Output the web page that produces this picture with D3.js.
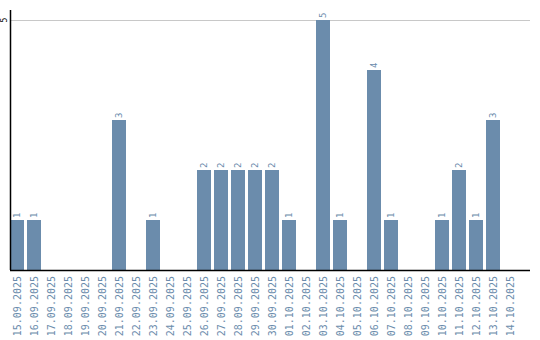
<!DOCTYPE html>
<html>
<head>
<meta charset="utf-8">
<script src="https://cdn.jsdelivr.net/npm/d3@7"></script>
<style>
  body { margin: 0; background: #fff; }
  svg { display: block; }
</style>
</head>
<body>
<svg id="barchart" width="540" height="340"></svg>
<script>
// days shown on the x axis
let days = ["15.09.2025", "16.09.2025", "17.09.2025", "18.09.2025", "19.09.2025",
  "20.09.2025", "21.09.2025", "22.09.2025", "23.09.2025", "24.09.2025",
  "25.09.2025", "26.09.2025", "27.09.2025", "28.09.2025", "29.09.2025",
  "30.09.2025", "01.10.2025", "02.10.2025", "03.10.2025", "04.10.2025",
  "05.10.2025", "06.10.2025", "07.10.2025", "08.10.2025", "09.10.2025",
  "10.10.2025", "11.10.2025", "12.10.2025", "13.10.2025", "14.10.2025"];
let counts = [1, 1, 0, 0, 0, 0, 3, 0, 1, 0, 0, 2, 2, 2, 2, 2, 1, 0, 5, 1, 0, 4, 1, 0, 0, 1, 2, 1, 3, 0];
let yTicks = [5];

let myData = days.map((d, i) => ({name: d, height: counts[i]}));

let svg = d3.select("#barchart"),
    margin = {left: 10, right: 530, top: 20, bottom: 270},
    barColor = "#6b8cac";

let x = d3.scaleBand()
  .domain(days)
  .range([margin.left, margin.left + 510])
  .paddingInner(3 / 17)
  .paddingOuter(3 / 34)
  .align(0);

let y = d3.scaleLinear()
  .domain([0, 5])
  .range([margin.bottom, margin.top]);

// grid line at 5
svg.append("g")
  .selectAll("line")
  .data(yTicks)
  .enter().append("line")
  .attr("x1", margin.left)
  .attr("x2", margin.right)
  .attr("y1", d => Math.round(y(d)) + 0.5)
  .attr("y2", d => Math.round(y(d)) + 0.5)
  .style("stroke", "#c8c8c8");

// bars
svg.append("g")
  .selectAll(".point")
  .data(myData.filter(d => d.height > 0))
  .enter().append("rect")
  .attr("class", "point")
  .attr("x", d => x(d.name))
  .attr("y", d => y(d.height))
  .attr("width", x.bandwidth())
  .attr("height", d => margin.bottom - y(d.height))
  .style("fill", barColor);

// value labels
svg.append("g")
  .selectAll("text")
  .data(myData.filter(d => d.height > 0))
  .enter().append("text")
  .attr("transform", d => "translate(" + (x(d.name) + x.bandwidth() / 2) + "," + (y(d.height) - 2) + ") rotate(-90)")
  .attr("dy", "0.35em")
  .style("font-family", "DejaVu Sans Mono, monospace")
  .style("font-size", "9px")
  .style("fill", barColor)
  .text(d => d.height);

// x axis
let xAxis = svg.append("g")
  .attr("transform", "translate(0," + margin.bottom + ")")
  .call(d3.axisBottom(x).tickSize(0).tickPadding(0));
xAxis.select(".domain").remove();
xAxis.append("line")
  .attr("x1", margin.left).attr("x2", margin.right)
  .attr("y1", 0.5).attr("y2", 0.5)
  .style("stroke", "#000")
  .style("stroke-width", 1.5);
xAxis.selectAll(".tick text")
  .attr("transform", "translate(0,6) rotate(-90)")
  .attr("text-anchor", "end")
  .attr("x", 0)
  .attr("y", 0)
  .attr("dy", "0.35em")
  .style("font-family", "DejaVu Sans Mono, monospace")
  .style("font-size", "10px")
  .style("fill", barColor);

// y axis
svg.append("line")
  .attr("x1", margin.left + 0.5).attr("x2", margin.left + 0.5)
  .attr("y1", 10).attr("y2", margin.bottom)
  .style("stroke", "#000")
  .style("stroke-width", 1.5);
svg.append("g")
  .selectAll("text")
  .data(yTicks)
  .enter().append("text")
  .attr("transform", d => "translate(4," + y(d) + ") rotate(-90)")
  .attr("text-anchor", "middle")
  .attr("dy", "0.35em")
  .style("font-family", "DejaVu Sans Mono, monospace")
  .style("font-size", "8px")
  .style("fill", "#000")
  .text(d => d);
</script>
</body>
</html>
